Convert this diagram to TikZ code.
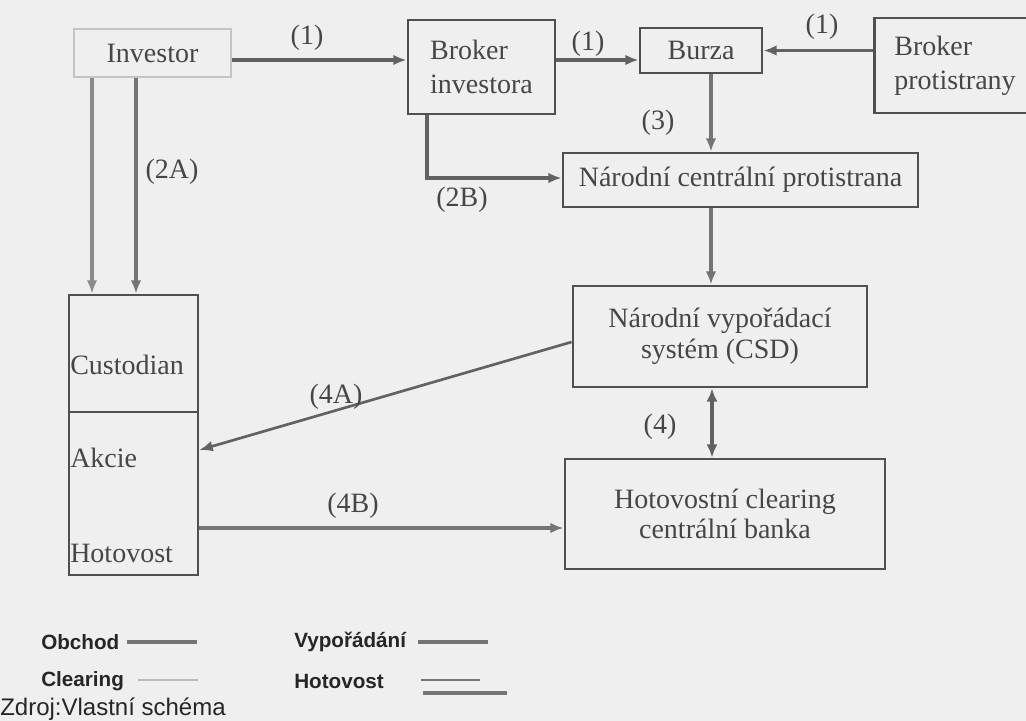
\documentclass[tikz,border=0pt]{standalone}
\usepackage{fontspec}
\setmainfont{Liberation Serif}
\newfontfamily\legfont{Liberation Sans}
\usetikzlibrary{arrows.meta,calc}
\definecolor{bgc}{HTML}{EFEFEF}
\definecolor{txc}{HTML}{464646}
\definecolor{boxc}{HTML}{505050}
\definecolor{arc}{HTML}{626262}
\definecolor{arcl}{HTML}{747474}
\definecolor{arcll}{HTML}{8A8A8A}
\definecolor{invc}{HTML}{C4C4C4}
\definecolor{clrc}{HTML}{BBBBBB}
\tikzset{
  box/.style={draw=boxc, line width=2.1pt, inner sep=1pt, align=left, text=txc,
    font=\fontsize{21}{25.5}\selectfont},
  lbl/.style={text=txc, inner sep=0pt, font=\fontsize{21}{25}\selectfont},
  ctext/.style={text=txc, inner sep=0pt, anchor=west, font=\fontsize{21}{25}\selectfont},
  arr/.style={draw=arc, line width=2.4pt, -{Latex[length=10pt,width=8pt]}},
  leg/.style={text=black!85, inner sep=0pt, anchor=west, font=\legfont\bfseries\fontsize{15.5}{18}\selectfont},
  legline/.style={line width=2.6pt, draw=arcl}
}
\begin{document}
\begin{tikzpicture}[x=0.75pt, y=-0.75pt]
\clip (0,0) rectangle (1026,721);
\fill[bgc] (0,0) rectangle (1026,721);

% boxes
\node[box, draw=invc, line width=1.5pt, minimum width=117.75pt, minimum height=36pt] (inv) at (152.5,53) {Investor};
\node[box, minimum width=110.25pt, minimum height=70.5pt] (bri) at (481.5,67) {Broker\\investora};
\node[box, minimum width=91.5pt, minimum height=33.75pt] (bur) at (701,50.5) {Burza};
\node[box, anchor=west, text width=97.5pt, inner xsep=15pt, minimum height=71.25pt] (brp) at (873,65.5) {Broker\\protistrany};
\node[box, minimum width=266.25pt, minimum height=40.5pt] (ncp) at (740.5,180) {Národní centrální protistrana};
\node[box, align=center, minimum width=220.5pt, minimum height=75.75pt, font=\fontsize{21}{23.5}\selectfont] (nvs) at (720,336.5) {Národní vypořádací\\systém (CSD)};
\node[box, align=center, minimum width=240pt, minimum height=82.5pt, font=\fontsize{21}{23}\selectfont] (hot) at (725,514) {Hotovostní clearing\\centrální banka};
\node[box, minimum width=96.75pt, minimum height=210pt] (cust) at (133.5,435) {};
\coordinate (dv) at (0,412);
\draw[draw=boxc, line width=2.1pt] (cust.west |- dv) -- (cust.east |- dv);
\node[ctext] (c1) at (70,365) {Custodian};
\node[ctext] (c2) at (70,458) {Akcie};
\node[ctext] (c3) at (70,553) {Hotovost};

% connectors
\draw[arr] ($(inv.east)+(0,7)$) coordinate (a1) -- (a1 -| bri.west);
\draw[arr] ($(bri.east)+(0,-7)$) coordinate (a2) -- (a2 -| bur.west);
\draw[arr] (brp.west |- bur.east) -- (bur.east);
\draw[arr, draw=arcl] ($(bur.south)+(10,0)$) coordinate (a4) -- (a4 |- ncp.north);
\draw[arr] ($(bri.south)+(-54.5,0)$) coordinate (a5) |- ($(ncp.west)+(0,-2)$);
\draw[arr, draw=arcll] ($(inv.south)+(-60.5,0)$) coordinate (a6) -- (a6 |- cust.north);
\draw[arr, draw=arcl] ($(inv.south)+(-16.5,0)$) coordinate (a7) -- (a7 |- cust.north);
\draw[arr, draw=arcl] ($(ncp.south)+(-29.5,0)$) coordinate (a8) -- (a8 |- nvs.north);
\draw[draw=arc, line width=2.6pt, {Latex[length=10pt,width=8.5pt]}-{Latex[length=10pt,width=8.5pt]}] ($(nvs.south)+(-8,0)$) coordinate (a9) -- (a9 |- hot.north);
\draw[arr, line width=2pt] ($(nvs.west)+(0,5.5)$) -- ($(cust.east)+(0,15)$);
\draw[arr, draw=arcl] ($(cust.east)+(0,93)$) coordinate (a10) -- (a10 -| hot.west);

% labels
\node[lbl] (l1) at (307,38) {(1)};
\node[lbl] (l2) at (588,44) {(1)};
\node[lbl] (l3) at (822,27) {(1)};
\node[lbl] (l4) at (658,123) {(3)};
\node[lbl] (l5) at (462,200) {(2B)};
\node[lbl] (l6) at (172,172) {(2A)};
\node[lbl] (l7) at (660,427) {(4)};
\node[lbl] (l8) at (336,397) {(4A)};
\node[lbl] (l9) at (353,506) {(4B)};

% legend
\node[leg] (g1) at (41,642) {Obchod};
\node[leg] (g2) at (41,681) {Clearing};
\node[leg] (g3) at (294,642) {Vypořádání};
\node[leg] (g4) at (294,681) {Hotovost};
\draw[legline] (127,642) -- (197,642);
\draw[legline, draw=clrc, line width=2pt] (138,680) -- (198,680);
\draw[legline] (418,642) -- (488,642);
\draw[legline, line width=2pt] (421,680) -- (480,680);
\draw[legline, line width=3pt] (423,693) -- (507,693);
\node[inner sep=0pt, anchor=west, text=black!85, font=\legfont\fontsize{18}{20}\selectfont] (src) at (0,709) {Zdroj:Vlastní schéma};
\end{tikzpicture}
\end{document}
